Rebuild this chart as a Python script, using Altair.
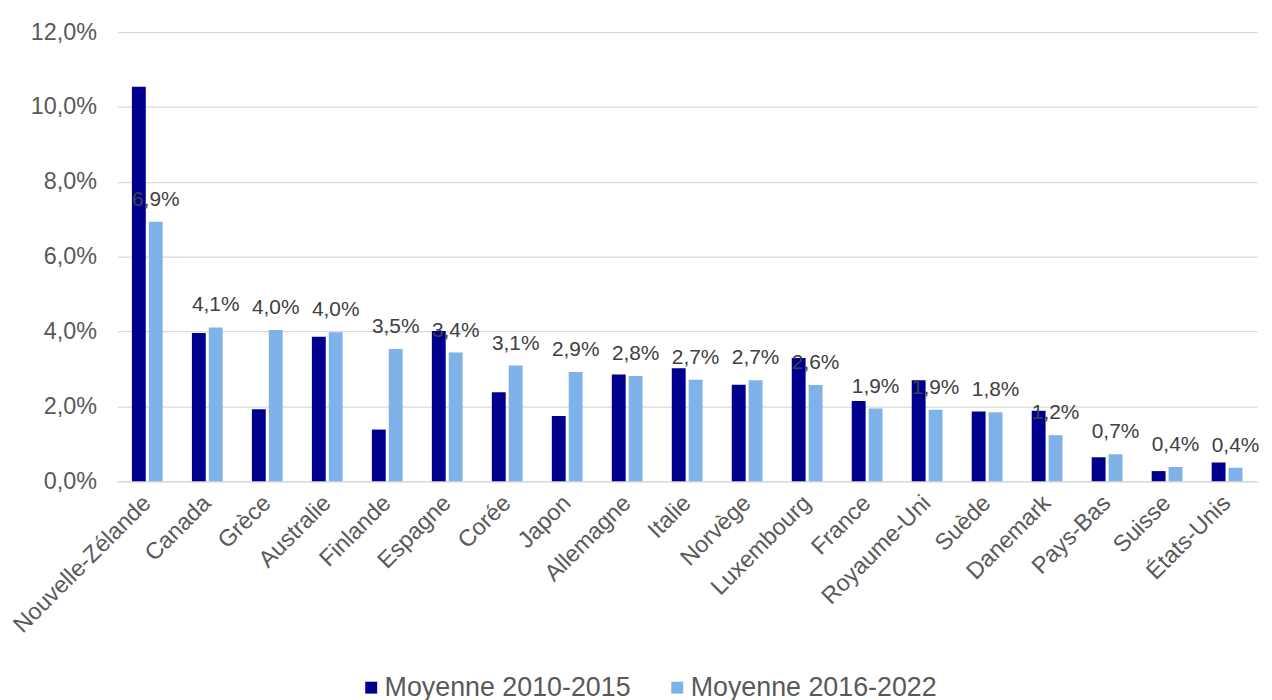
import altair as alt
import pandas as pd

pays = ["Nouvelle-Zélande", "Canada", "Grèce", "Australie", "Finlande", "Espagne",
        "Corée", "Japon", "Allemagne", "Italie", "Norvège", "Luxembourg", "France",
        "Royaume-Uni", "Suède", "Danemark", "Pays-Bas", "Suisse", "États-Unis"]
moy_2010_2015 = [10.54, 3.96, 1.92, 3.86, 1.38, 4.01, 2.38, 1.74, 2.85, 3.02,
                 2.58, 3.29, 2.14, 2.70, 1.86, 1.88, 0.64, 0.27, 0.50]
moy_2016_2022 = [6.93, 4.11, 4.04, 3.98, 3.53, 3.44, 3.09, 2.92, 2.81, 2.71,
                 2.70, 2.57, 1.94, 1.91, 1.84, 1.23, 0.72, 0.38, 0.36]
series = ["Moyenne 2010-2015", "Moyenne 2016-2022"]
colors = ["#00008F", "#7FB2E8"]
y_ticks = [0, 2, 4, 6, 8, 10, 12]

rows = []
for s, vals in zip(series, [moy_2010_2015, moy_2016_2022]):
    for p, v in zip(pays, vals):
        rows.append({"pays": p, "serie": s, "valeur": v,
                     "label": f"{v:.1f}".replace(".", ",") + "%"})
df = pd.DataFrame(rows)

FONT = "Liberation Sans"

x = alt.X("pays:N", sort=pays, title=None,
          scale=alt.Scale(paddingInner=0.487, paddingOuter=0.2435),
          axis=alt.Axis(labelAngle=-45, labelAlign="right", labelBaseline="middle",
                        labelFontSize=23.5, labelColor="#595959", labelFont=FONT,
                        domainColor="#d9d9d9", domainWidth=1.5, ticks=False,
                        labelPadding=18, labelLimit=400))
xo = alt.XOffset("serie:N", sort=series,
                 scale=alt.Scale(domain=series, paddingInner=0.18, paddingOuter=0))
y = alt.Y("valeur:Q", title=None,
          scale=alt.Scale(domain=[0, 12], nice=False),
          axis=alt.Axis(values=y_ticks, domain=False, ticks=False,
                        labelExpr="replace(format(datum.value, '.1f'), '.', ',') + '%'",
                        gridColor="#d9d9d9", gridWidth=1.2,
                        labelFontSize=23.5, labelColor="#595959", labelFont=FONT,
                        labelPadding=21))
color = alt.Color("serie:N", sort=series,
                  scale=alt.Scale(domain=series, range=colors),
                  legend=alt.Legend(title=None, orient="none", direction="horizontal",
                                    legendX=242, legendY=646, symbolType="square",
                                    symbolSize=144, symbolStrokeWidth=0,
                                    labelFontSize=27, labelColor="#595959",
                                    labelFont=FONT, labelLimit=400,
                                    columnPadding=33, labelOffset=0, padding=0))

base = alt.Chart(df)
bars = base.mark_bar().encode(x=x, xOffset=xo, y=y, color=color)
labels = base.transform_filter(alt.datum.serie == series[1]).mark_text(
    dy=-16, baseline="alphabetic", fontSize=21, color="#404040", font=FONT
).encode(x=x, xOffset=xo, y=y, text="label:N")

chart = alt.layer(bars, labels).properties(
    width=1147, height=452,
    autosize=alt.AutoSizeParams(type="none"),
    padding={"left": 110, "top": 22, "right": 7, "bottom": 225},
).configure(font=FONT).configure_view(stroke=None)

chart.save("out.html", embed_options={"renderer": "svg", "actions": False})
